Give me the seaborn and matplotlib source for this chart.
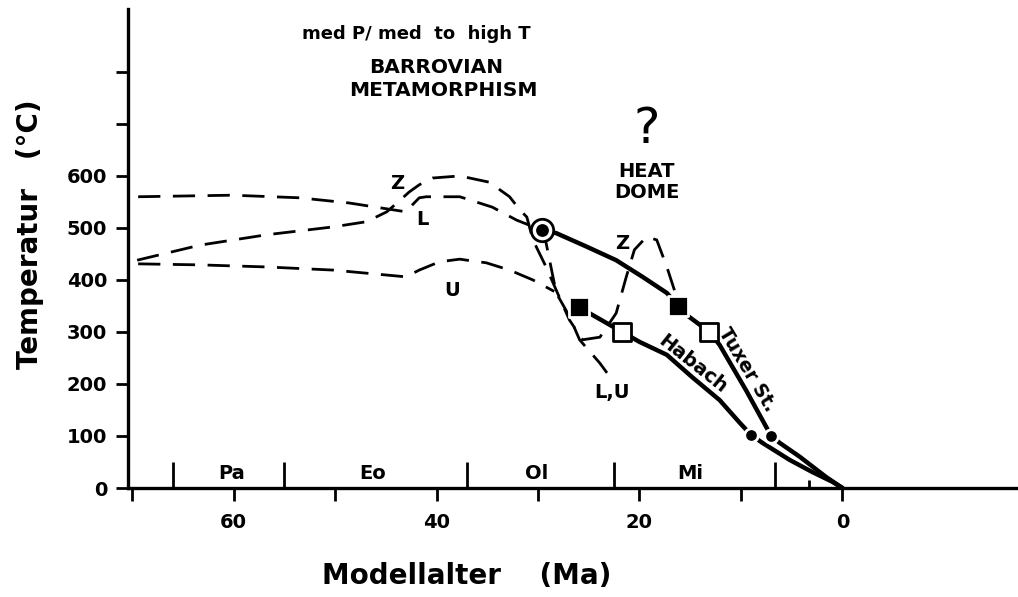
import matplotlib
matplotlib.use('Agg')
import matplotlib.pyplot as plt
import seaborn as sns

# cooling paths: age in Ma, temperature in deg C
z_age = [69.5, 63.3, 56.7, 50.2, 46.9, 44.9, 43.9, 42.7, 41.7, 40.4, 37.7, 34.8, 32.8, 31.8,
         31.1, 30.5, 29.2, 27.9, 26.9, 25.6, 23.9, 22.3, 21.3, 20.5, 19.3, 18.3, 17.3, 16.3]
z_temp = [438, 467, 487, 502, 512, 531, 548, 569, 583, 596, 600, 588, 560, 535,
          521, 477, 425, 367, 323, 285, 290, 336, 406, 458, 483, 477, 425, 365]

# L and U share one path below ~28 Ma ("L,U")
l_age = [69.4, 60.1, 53.5, 48.6, 43.0, 42.7, 41.7, 41.0, 37.7, 34.5, 32.1, 30.8,
         29.6, 29.2, 28.2, 26.9, 25.9, 23.9, 22.7]
l_temp = [560, 563, 558, 548, 531, 538, 558, 560, 560, 540, 515, 505,
          496, 471, 375, 330, 285, 240, 208]

u_age = [69.4, 63.3, 56.7, 50.2, 43.0, 41.7, 39.7, 37.7, 37.0, 35.1, 32.8, 30.5, 28.4]
u_temp = [431, 429, 425, 419, 406, 419, 435, 440, 438, 433, 419, 400, 378]

tuxer_age = [29.6, 28.2, 25.2, 22.3, 19.7, 17.3, 16.2, 15.1, 13.1, 12.1, 9.5, 7.5,
             7.0, 6.2, 4.2, 1.6, 0.0]
tuxer_temp = [496, 490, 464, 438, 406, 375, 350, 329, 300, 275, 188, 117,
              100, 87, 60, 21, 0]

habach_age = [26.0, 21.7, 20.0, 17.3, 14.8, 12.1, 10.1, 9.0, 7.9, 5.2, 3.0, 1.0, 0.0]
habach_temp = [348, 300, 281, 256, 213, 169, 125, 102, 87, 54, 31, 12, 0]

ring_age, ring_temp = [29.6], [496]
black_sq_age, black_sq_temp = [26.0, 16.2], [348, 350]
white_sq_age, white_sq_temp = [21.7, 13.1], [300, 300]
dot_age, dot_temp = [9.0, 7.0], [102, 100]

# stratigraphic boundaries on the time axis
epoch_bounds = [66.0, 55.0, 37.0, 22.5, 6.6, 3.3]
epoch_heights = [50, 50, 50, 50, 50, 16]
epoch_names = ['Pa', 'Eo', 'Ol', 'Mi']
epoch_name_age = [60.2, 46.3, 30.1, 15.0]

sns.set_theme(style='ticks')
plt.rcParams['font.family'] = ['DejaVu Sans']
plt.rcParams['text.color'] = 'black'

fig = plt.figure(figsize=(10.18, 5.97), dpi=100)
ax = fig.add_axes([128 / 1018, 109 / 597, 890 / 1018, 479 / 597])

dash = (0, (8, 4.5))
for age, temp in [(z_age, z_temp), (l_age, l_temp), (u_age, u_temp)]:
    sns.lineplot(x=age, y=temp, sort=False, estimator=None, color='black',
                 lw=2.0, linestyle=dash, ax=ax)

for age, temp in [(tuxer_age, tuxer_temp), (habach_age, habach_temp)]:
    sns.lineplot(x=age, y=temp, sort=False, estimator=None, color='black',
                 lw=3.2, ax=ax)

# markers
sns.scatterplot(x=ring_age, y=ring_temp, marker='o', s=260, color='white',
                edgecolor='black', linewidth=2, zorder=5, ax=ax)
sns.scatterplot(x=ring_age, y=ring_temp, marker='o', s=85, color='black',
                edgecolor='black', linewidth=0, zorder=6, ax=ax)
sns.scatterplot(x=black_sq_age, y=black_sq_temp, marker='s', s=190, color='black',
                edgecolor='white', linewidth=2, zorder=5, ax=ax)
sns.scatterplot(x=white_sq_age, y=white_sq_temp, marker='s', s=170, color='white',
                edgecolor='black', linewidth=2, zorder=5, ax=ax)
sns.scatterplot(x=dot_age, y=dot_temp, marker='o', s=95, color='black',
                edgecolor='white', linewidth=2, zorder=5, ax=ax)

# epoch boundaries and names
ax.vlines(epoch_bounds, 0, epoch_heights, color='black', lw=2)
for name, age in zip(epoch_names, epoch_name_age):
    ax.text(age, 28, name, ha='center', va='center', fontsize=14, fontweight='bold')

ax.set_xlim(70.4, -17.3)
ax.set_ylim(0, 921)

ax.set_yticks(range(0, 801, 100))
ax.set_yticklabels(['0', '100', '200', '300', '400', '500', '600', '', ''])
ax.set_xticks([60, 40, 20, 0])
ax.set_xticklabels(['60', '40', '20', '0'])
ax.set_xticks([70, 50, 30, 10], minor=True)
ax.tick_params(axis='both', which='both', direction='out', width=2, length=9,
               color='black', labelsize=14, labelcolor='black')
ax.tick_params(axis='y', pad=6)
ax.tick_params(axis='x', pad=9)
for lab in ax.get_xticklabels() + ax.get_yticklabels():
    lab.set_fontweight('bold')

sns.despine(ax=ax)
for side in ['left', 'bottom']:
    ax.spines[side].set_linewidth(2.4)
    ax.spines[side].set_color('black')

# annotations
ax.text(42.0, 872, 'med P/ med  to  high T', ha='center', va='center', fontsize=13, fontweight='bold')
ax.text(40.0, 808, 'BARROVIAN', ha='center', va='center', fontsize=14.5, fontweight='bold')
ax.text(39.3, 764, 'METAMORPHISM', ha='center', va='center', fontsize=14.5, fontweight='bold')
ax.text(19.3, 690, '?', ha='center', va='center', fontsize=36)
ax.text(19.3, 608, 'HEAT', ha='center', va='center', fontsize=14, fontweight='bold')
ax.text(19.3, 568, 'DOME', ha='center', va='center', fontsize=14, fontweight='bold')
ax.text(43.9, 585, 'Z', ha='center', va='center', fontsize=14, fontweight='bold')
ax.text(41.4, 516, 'L', ha='center', va='center', fontsize=14, fontweight='bold')
ax.text(38.5, 380, 'U', ha='center', va='center', fontsize=14, fontweight='bold')
ax.text(21.7, 471, 'Z', ha='center', va='center', fontsize=14, fontweight='bold')
ax.text(22.7, 183, 'L,U', ha='center', va='center', fontsize=14, fontweight='bold')
ax.text(14.8, 238, 'Habach', ha='center', va='center', fontsize=14, fontweight='bold',
        rotation=-38.5, rotation_mode='anchor')
ax.text(9.4, 228, 'Tuxer St.', ha='center', va='center', fontsize=13.5, fontweight='bold',
        rotation=-59, rotation_mode='anchor')

ax.set_xlabel('')
ax.set_ylabel('')
fig.text(467 / 1018, 1 - 576 / 597, 'Modellalter    (Ma)', ha='center', va='center',
         fontsize=20, fontweight='bold')
fig.text(30 / 1018, 1 - 234 / 597, 'Temperatur   (°C)', ha='center', va='center',
         fontsize=20, fontweight='bold', rotation=90)

fig.savefig('out.png', dpi=100, facecolor='white')
